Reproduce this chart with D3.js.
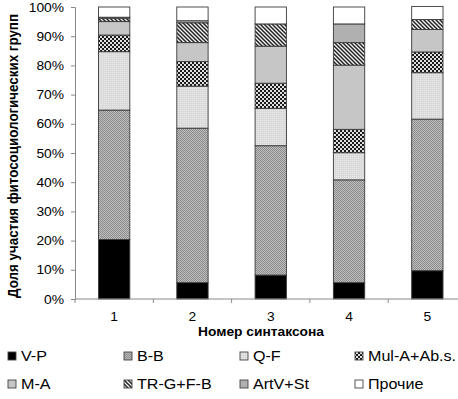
<!DOCTYPE html>
<html><head><meta charset="utf-8">
<script src="https://cdn.jsdelivr.net/npm/d3@7"></script>
<style>body{margin:0;background:#fff}svg{display:block}text{font-family:"Liberation Sans",Arial,sans-serif;fill:#000}</style>
</head><body>
<svg id="c" width="458" height="399"></svg>
<script>
const categories = ["1","2","3","4","5"];
const seriesNames = ["V-P","B-B","Q-F","Mul-A+Ab.s.","M-A","TR-G+F-B","ArtV+St","Прочие"];
const vP    = [20.4, 5.6, 8.2, 5.6, 9.7];
const bB    = [44.3, 52.9, 44.3, 35.2, 51.9];
const qF    = [20.0, 14.4, 12.8, 9.3, 15.9];
const mulA  = [5.7, 8.4, 8.6, 8.0, 7.1];
const mA    = [4.6, 6.5, 12.7, 22.0, 7.7];
const trG   = [1.2, 6.8, 7.6, 7.7, 3.4];
const artV  = [0.3, 0.7, 0.0, 6.4, 0.0];
const other = [3.5, 4.7, 5.8, 5.8, 4.5];
const yTicks = [0,10,20,30,40,50,60,70,80,90,100];
const xTitle = "Номер синтаксона";
const yTitle = "Доля участия фитосоциологических групп";

const series = [vP,bB,qF,mulA,mA,trG,artV,other];
const svg = d3.select("#c");
const SX = 1.15;
const defs = svg.append("defs");
function pat(id,w,h,bg,draw){const p=defs.append("pattern").attr("id",id).attr("patternUnits","userSpaceOnUse").attr("width",w).attr("height",h);p.append("rect").attr("width",w).attr("height",h).attr("fill",bg);draw&&draw(p);}
pat("pVP",4,4,"#000");
pat("pBB",2,2,"#bdbdbd",p=>{p.append("rect").attr("width",1).attr("height",1).attr("fill","#8c8c8c");p.append("rect").attr("x",1).attr("y",1).attr("width",1).attr("height",1).attr("fill","#8c8c8c");});
pat("pQF",2,2,"#dadada",p=>{p.append("rect").attr("width",1).attr("height",1).attr("fill","#e8e8e8");});
pat("pMul",4,4,"#1a1a1a",p=>{p.append("rect").attr("width",2).attr("height",2).attr("fill","#e0e0e0");p.append("rect").attr("x",2).attr("y",2).attr("width",2).attr("height",2).attr("fill","#e0e0e0");});
pat("pMA",4,4,"#c6c6c6");
pat("pTR",4,4,"#f4f4f4",p=>{p.append("path").attr("d","M-1,-1L5,5M-1,3L1,5M3,-1L5,1").attr("stroke","#222").attr("stroke-width",1.5);});
pat("pArt",4,4,"#b0b0b0");
pat("pOth",4,4,"#fff");
const fills = ["url(#pVP)","url(#pBB)","url(#pQF)","url(#pMul)","url(#pMA)","url(#pTR)","url(#pArt)","url(#pOth)"];

const x = d3.scaleBand().domain(categories).range([75,466.5]).paddingInner(0.6).paddingOuter(0.3);
const y = d3.scaleLinear().domain([0,100]).range([299,7]);

const rows = categories.map((c,i)=>{const o={cat:c};seriesNames.forEach((s,j)=>o[s]=series[j][i]);return o;});
const stacked = d3.stack().keys(seriesNames)(rows);
const g = svg.append("g");
stacked.forEach((layer,j)=>{
  g.selectAll(null).data(layer).enter().append("rect")
   .attr("x",d=>x(d.data.cat)).attr("width",x.bandwidth())
   .attr("y",d=>y(d[1])).attr("height",d=>Math.max(0,y(d[0])-y(d[1])))
   .attr("fill",fills[j]).attr("stroke","#3a3a3a").attr("stroke-width",0.9);
});

const ya = svg.append("g").attr("transform","translate(75,0)").call(d3.axisLeft(y).tickValues(yTicks).tickSize(4).tickFormat(d=>d+"%"));
ya.select(".domain").attr("stroke","#8a8a8a");
ya.selectAll(".tick line").attr("stroke","#8a8a8a");
ya.selectAll(".tick text").attr("font-size",12).attr("font-family","Liberation Sans, Arial").attr("fill","#000")
  .attr("x",0).attr("dy",0).attr("transform",function(){return `translate(-11,4) scale(${SX},1)`;});

const xa = svg.append("g").attr("transform","translate(0,299)");
xa.append("line").attr("x1",75).attr("x2",458).attr("stroke","#8a8a8a");
const bounds = categories.map(c=>x(c)-x.step()*0.3).concat([x(categories[4])+x.bandwidth()+x.step()*0.3]);
xa.selectAll(null).data(bounds).enter().append("line").attr("x1",d=>d).attr("x2",d=>d).attr("y1",0).attr("y2",4).attr("stroke","#8a8a8a");
xa.selectAll(null).data(categories).enter().append("text")
  .attr("transform",d=>`translate(${x(d)+x.bandwidth()/2},22) scale(${SX},1)`)
  .attr("text-anchor","middle").attr("font-size",12).text(d=>d);

svg.append("text").attr("transform",`translate(261,336) scale(${SX},1)`).attr("text-anchor","middle")
  .attr("font-size",12).attr("font-weight","bold").text(xTitle);
svg.append("text").attr("transform",`translate(18,156) rotate(-90) scale(1.03,1.12)`).attr("text-anchor","middle")
  .attr("font-size",13).attr("font-weight","bold").text(yTitle);

const lcols=[8,124,240,355], lrows=[361,389];
seriesNames.forEach((s,j)=>{
  const cx=lcols[j%4], cy=lrows[Math.floor(j/4)];
  svg.append("rect").attr("x",cx).attr("y",cy-9).attr("width",8).attr("height",8).attr("fill",fills[j]).attr("stroke","#444").attr("stroke-width",0.9);
  svg.append("text").attr("transform",`translate(${cx+13},${cy}) scale(${SX},1)`).attr("font-size",14).text(s);
});
</script>
</body></html>
